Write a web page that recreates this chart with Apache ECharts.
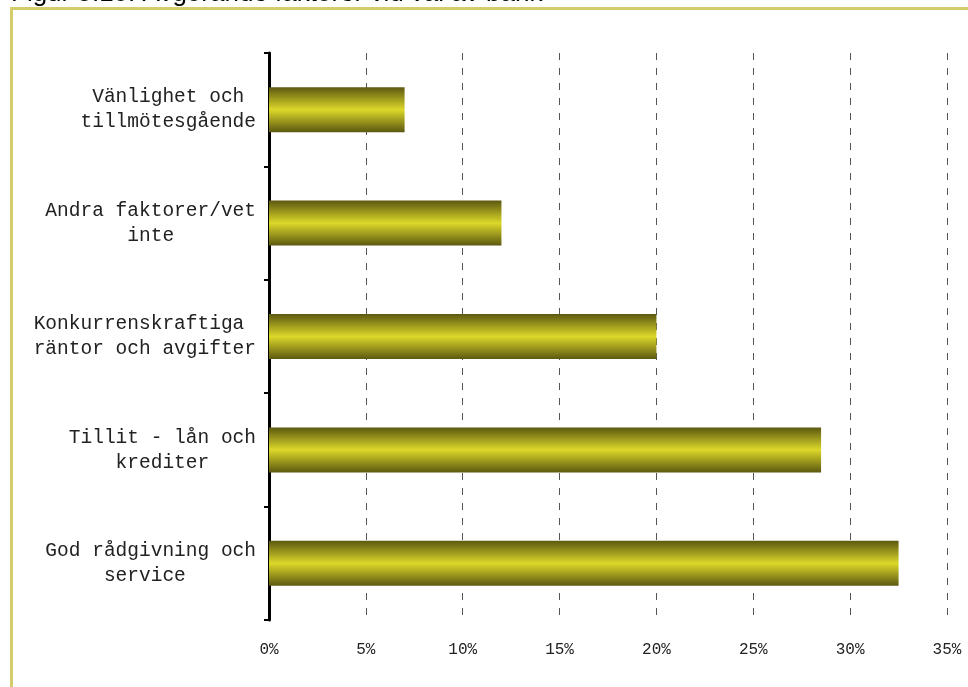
<!DOCTYPE html>
<html>
<head>
<meta charset="utf-8">
<script src="https://cdn.jsdelivr.net/npm/echarts@6/dist/echarts.min.js"></script>
<style>
html,body{margin:0;padding:0;background:#fff;}
#chart{width:968px;height:687px;}
</style>
</head>
<body>
<div id="chart"></div>
<script>
const titleText = 'Figur 5.10: Avgörande faktorer vid val av bank';
const categories = [
  'Vänlighet och\ntillmötesgående',
  'Andra faktorer/vet\ninte',
  'Konkurrenskraftiga\nräntor och avgifter',
  'Tillit - lån och\nkrediter',
  'God rådgivning och\nservice'
];
const values = [7, 12, 20, 28.5, 32.5];
const xTicks = [0, 5, 10, 15, 20, 25, 30, 35];

function centerLines(s) {
  const lines = s.split('\n');
  const max = Math.max(...lines.map(l => l.length));
  return lines.map(l => {
    const d = max - l.length;
    const left = Math.floor(d / 2);
    return ' '.repeat(left) + l + ' '.repeat(d - left);
  }).join('\n');
}

const chart = echarts.init(document.getElementById('chart'));
chart.setOption({
  animation: false,
  backgroundColor: '#fff',
  graphic: [
    {
      type: 'rect',
      shape: { x: 11.5, y: 8.5, width: 1000, height: 800 },
      style: { fill: 'none', stroke: '#d3cd6c', lineWidth: 3 },
      z: 0
    },
    {
      type: 'text',
      x: 11, y: 7,
      style: {
        text: titleText,
        font: '26px "Liberation Sans", Arial, sans-serif',
        fill: '#000',
        verticalAlign: 'bottom'
      }
    }
  ],
  grid: { left: 269, right: 21, top: 53, bottom: 67, containLabel: false },
  xAxis: {
    type: 'value',
    min: 0, max: 35, interval: 5,
    axisLine: { show: false },
    axisTick: { show: false },
    axisLabel: {
      margin: 22,
      fontFamily: '"Liberation Mono", "Courier New", monospace',
      fontSize: 16,
      color: '#222',
      formatter: v => xTicks.includes(v) ? v + '%' : ''
    },
    splitLine: {
      show: true,
      lineStyle: { type: [7, 8], color: '#555', width: 1 }
    }
  },
  yAxis: {
    type: 'category',
    data: categories,
    inverse: true,
    axisLine: { show: true, lineStyle: { color: '#000', width: 3 } },
    axisTick: { show: true, length: 5, lineStyle: { color: '#000', width: 2 } },
    axisLabel: {
      margin: 13,
      fontFamily: '"Courier New", "Liberation Mono", monospace',
      fontSize: 19.5,
      lineHeight: 25,
      color: '#222',
      formatter: v => centerLines(v)
    },
    splitLine: { show: false }
  },
  series: [{
    type: 'bar',
    data: values,
    barWidth: 45,
    itemStyle: {
      color: {
        type: 'linear', x: 0, y: 0, x2: 0, y2: 1,
        colorStops: [
          { offset: 0, color: '#5c5810' },
          { offset: 0.5, color: '#dcd82a' },
          { offset: 1, color: '#5c5810' }
        ]
      }
    },
    z: 3
  }]
});
</script>
</body>
</html>
